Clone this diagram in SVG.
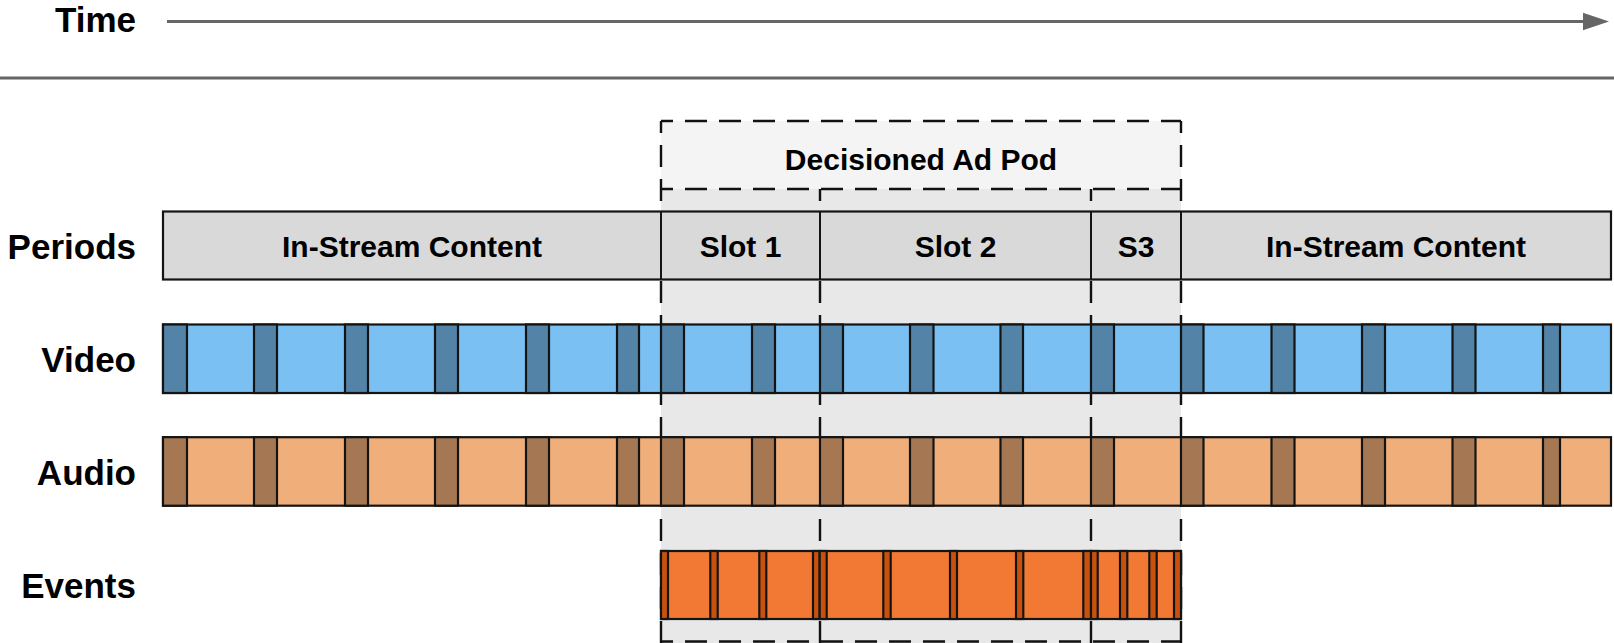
<svg xmlns="http://www.w3.org/2000/svg" width="1614" height="643" viewBox="0 0 1614 643">
  <defs>
    <style>
      .lbl { font-family: "Liberation Sans", Arial, sans-serif; font-weight: bold; font-size: 35px; fill: #000; text-anchor: end; }
      .in { font-family: "Liberation Sans", Arial, sans-serif; font-weight: bold; font-size: 30px; fill: #000; text-anchor: middle; }
      .bar { stroke: #141414; stroke-width: 2.2; }
      .dash { stroke: #111; stroke-width: 2.4; fill: none; stroke-dasharray: 22 12; stroke-dashoffset: 10; }
      .vl { fill: #7bc0f2; } .vd { fill: #5383a6; }
      .al { fill: #f0ae7a; } .ad { fill: #a57853; }
      .el { fill: #f27934; } .ed { fill: #c8510e; }
    </style>
  </defs>
  <rect width="1614" height="643" fill="#fff"/>

  <!-- Ad pod background -->
  <g id="adpod">
    <rect x="661" y="121" width="520" height="68" fill="#f4f4f4"/>
    <rect x="661" y="189" width="520" height="454" fill="#e8e8e8"/>
    <line class="dash" x1="820" y1="189" x2="820" y2="643"/>
    <line class="dash" x1="1091" y1="189" x2="1091" y2="643"/>
    <line class="dash" x1="661" y1="121" x2="1181" y2="121"/>
    <line class="dash" x1="661" y1="189" x2="1181" y2="189"/>
    <line class="dash" x1="661" y1="641.5" x2="1181" y2="641.5"/>
    <line class="dash" x1="661" y1="121" x2="661" y2="643"/>
    <line class="dash" x1="1181" y1="121" x2="1181" y2="643"/>
    <text class="in" x="921" y="170">Decisioned Ad Pod</text>
  </g>

  <!-- Time header -->
  <g id="time">
    <text class="lbl" x="136" y="32">Time</text>
  </g>
  <g id="connectors">
    <line x1="167" y1="21.5" x2="1584" y2="21.5" stroke="#666" stroke-width="3"/>
    <polygon points="1583,12.7 1609,21.5 1583,30.3" fill="#666"/>
    <line x1="0" y1="78" x2="1614" y2="78" stroke="#666" stroke-width="3"/>
  </g>

  <!-- Periods -->
  <g id="periods">
    <text class="lbl" x="136" y="258.5">Periods</text>
    <rect class="bar" x="163" y="211.5" width="1448" height="68" fill="#d9d9d9"/>
    <line x1="661" y1="211.5" x2="661" y2="279.5" stroke="#141414" stroke-width="2"/>
    <line x1="820" y1="211.5" x2="820" y2="279.5" stroke="#141414" stroke-width="2"/>
    <line x1="1091" y1="211.5" x2="1091" y2="279.5" stroke="#141414" stroke-width="2"/>
    <line x1="1181" y1="211.5" x2="1181" y2="279.5" stroke="#141414" stroke-width="2"/>
    <text class="in" x="412" y="256.5">In-Stream Content</text>
    <text class="in" x="740.5" y="256.5">Slot 1</text>
    <text class="in" x="955.5" y="256.5">Slot 2</text>
    <text class="in" x="1136" y="256.5">S3</text>
    <text class="in" x="1396" y="256.5">In-Stream Content</text>
  </g>

  <!-- Video -->
  <g id="video">
    <text class="lbl" x="136" y="371.8">Video</text>
    <rect class="bar vl" x="163" y="324.5" width="1448" height="68.5"/>
    <g class="bar vd">
      <rect x="163" y="324.5" width="24" height="68.5"/>
      <rect x="254" y="324.5" width="23" height="68.5"/>
      <rect x="345" y="324.5" width="23" height="68.5"/>
      <rect x="435" y="324.5" width="23" height="68.5"/>
      <rect x="526" y="324.5" width="23" height="68.5"/>
      <rect x="617" y="324.5" width="22" height="68.5"/>
      <rect x="661" y="324.5" width="23" height="68.5"/>
      <rect x="752" y="324.5" width="23" height="68.5"/>
      <rect x="820" y="324.5" width="23" height="68.5"/>
      <rect x="910" y="324.5" width="23.5" height="68.5"/>
      <rect x="1000.5" y="324.5" width="22.5" height="68.5"/>
      <rect x="1091" y="324.5" width="23" height="68.5"/>
      <rect x="1181" y="324.5" width="22.5" height="68.5"/>
      <rect x="1271.5" y="324.5" width="23" height="68.5"/>
      <rect x="1362" y="324.5" width="23" height="68.5"/>
      <rect x="1452.5" y="324.5" width="23" height="68.5"/>
      <rect x="1543" y="324.5" width="17" height="68.5"/>
    </g>
  </g>

  <!-- Audio -->
  <g id="audio">
    <text class="lbl" x="136" y="484.5">Audio</text>
    <rect class="bar al" x="163" y="437.2" width="1448" height="68.5"/>
    <g class="bar ad">
      <rect x="163" y="437.2" width="24" height="68.5"/>
      <rect x="254" y="437.2" width="23" height="68.5"/>
      <rect x="345" y="437.2" width="23" height="68.5"/>
      <rect x="435" y="437.2" width="23" height="68.5"/>
      <rect x="526" y="437.2" width="23" height="68.5"/>
      <rect x="617" y="437.2" width="22" height="68.5"/>
      <rect x="661" y="437.2" width="23" height="68.5"/>
      <rect x="752" y="437.2" width="23" height="68.5"/>
      <rect x="820" y="437.2" width="23" height="68.5"/>
      <rect x="910" y="437.2" width="23.5" height="68.5"/>
      <rect x="1000.5" y="437.2" width="22.5" height="68.5"/>
      <rect x="1091" y="437.2" width="23" height="68.5"/>
      <rect x="1181" y="437.2" width="22.5" height="68.5"/>
      <rect x="1271.5" y="437.2" width="23" height="68.5"/>
      <rect x="1362" y="437.2" width="23" height="68.5"/>
      <rect x="1452.5" y="437.2" width="23" height="68.5"/>
      <rect x="1543" y="437.2" width="17" height="68.5"/>
    </g>
  </g>

  <!-- Events -->
  <g id="events">
    <text class="lbl" x="136" y="597.8">Events</text>
    <rect class="bar el" x="661" y="551" width="520" height="68"/>
    <g class="bar ed">
      <rect x="661" y="551" width="7" height="68"/>
      <rect x="710.3" y="551" width="7.4" height="68"/>
      <rect x="759.3" y="551" width="7" height="68"/>
      <rect x="813" y="551" width="6.7" height="68"/>
      <rect x="819.7" y="551" width="7" height="68"/>
      <rect x="883.3" y="551" width="7.4" height="68"/>
      <rect x="950" y="551" width="7" height="68"/>
      <rect x="1016" y="551" width="7.3" height="68"/>
      <rect x="1083.3" y="551" width="7.7" height="68"/>
      <rect x="1091" y="551" width="6.7" height="68"/>
      <rect x="1120" y="551" width="7.3" height="68"/>
      <rect x="1149.3" y="551" width="7.4" height="68"/>
      <rect x="1174" y="551" width="7" height="68"/>
    </g>
  </g>
</svg>
